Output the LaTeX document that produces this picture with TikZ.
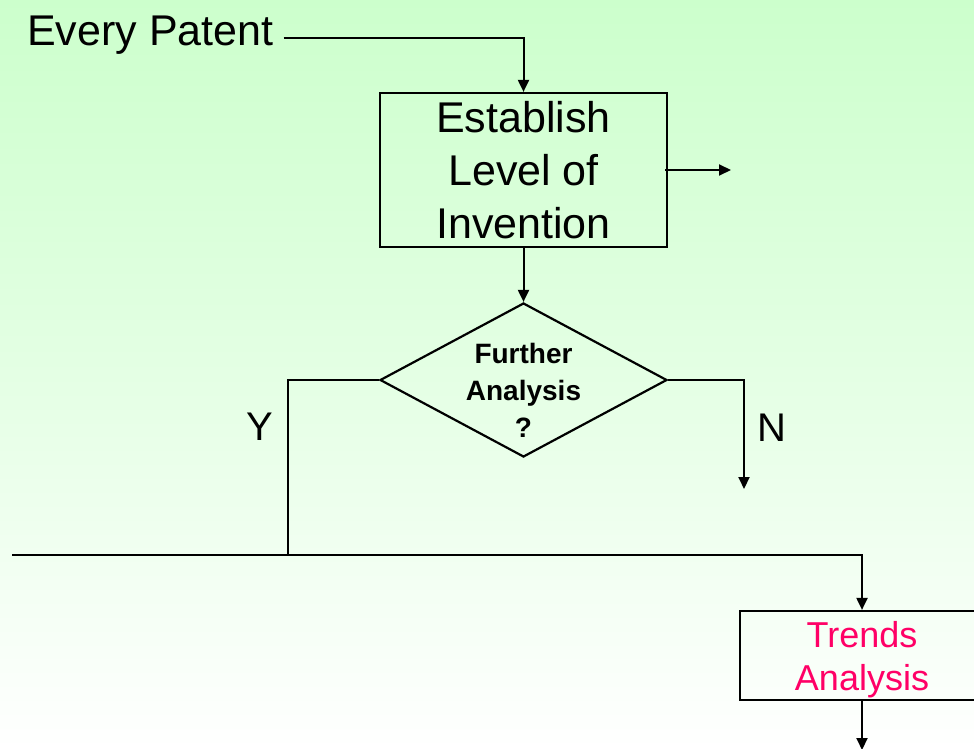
\documentclass[tikz,border=0pt]{standalone}
\usepackage{fontspec}
\setmainfont{Liberation Sans}
\usetikzlibrary{shapes.geometric,arrows.meta}
\definecolor{bgtop}{RGB}{204,255,204}
\definecolor{bgbot}{RGB}{255,255,255}
\definecolor{trendpink}{RGB}{255,0,102}
\tikzset{
  conn/.style={line width=2pt, draw=black},
  arr/.style={conn, -{Triangle[length=12pt,width=11pt]}},
  boxnode/.style={draw=black, line width=2.2pt, align=center, inner sep=0pt},
}
\begin{document}
\begin{tikzpicture}[x=1pt,y=-1pt]
\useasboundingbox (0,0) rectangle (974,749);
\shade[top color=bgtop, bottom color=bgbot, middle color={rgb,255:red,228;green,255;blue,228}] (0,0) rectangle (974,749);
\clip (0,0) rectangle (974,749);

\node[anchor=base west, inner sep=0pt, font=\fontsize{43}{50}\selectfont] (ep) at (27,46) {Every Patent};

\node[boxnode, minimum width=287pt, minimum height=154pt, font=\fontsize{43}{53}\selectfont] (est) at (523.5,170) {Establish\\Level of\\Invention};

\node[boxnode, diamond, minimum width=287pt, minimum height=154pt, aspect=1.86] (dia) at (523.5,380) {};
\node[align=center, inner sep=0pt, font=\fontsize{28}{37}\selectfont\bfseries] (dtext) at (523.5,390) {Further\\Analysis\\?};

\node[boxnode, minimum width=244pt, minimum height=89pt] (tr) at (862,655.5) {};
\node[align=center, inner sep=0pt, text=trendpink, font=\fontsize{36}{43}\selectfont] (trtext) at (862,660) {Trends\\Analysis};

\node[inner sep=0pt, font=\fontsize{40}{46}\selectfont] (ylab) at (260,427) {Y};
\node[inner sep=0pt, font=\fontsize{40}{46}\selectfont] (nlab) at (772,428) {N};

\coordinate (estout) at (731,170);
\coordinate (nend) at (744,489);
\coordinate (yjoin) at (288,555);
\coordinate (lstart) at (12,555);
\coordinate (bend) at (862,750);

\draw[arr] ([xshift=10pt,yshift=-2pt]ep.east) -| (est.north);
\draw[arr] ([xshift=-3pt]est.east) -- (estout);
\draw[arr] (est.south) -- (dia.north);
\draw[conn] (dia.west) -| (yjoin);
\draw[arr] (dia.east) -| (nend);
\draw[arr] (lstart) -| (tr.north);
\draw[arr] (tr.south) -- (bend);
\end{tikzpicture}
\end{document}
